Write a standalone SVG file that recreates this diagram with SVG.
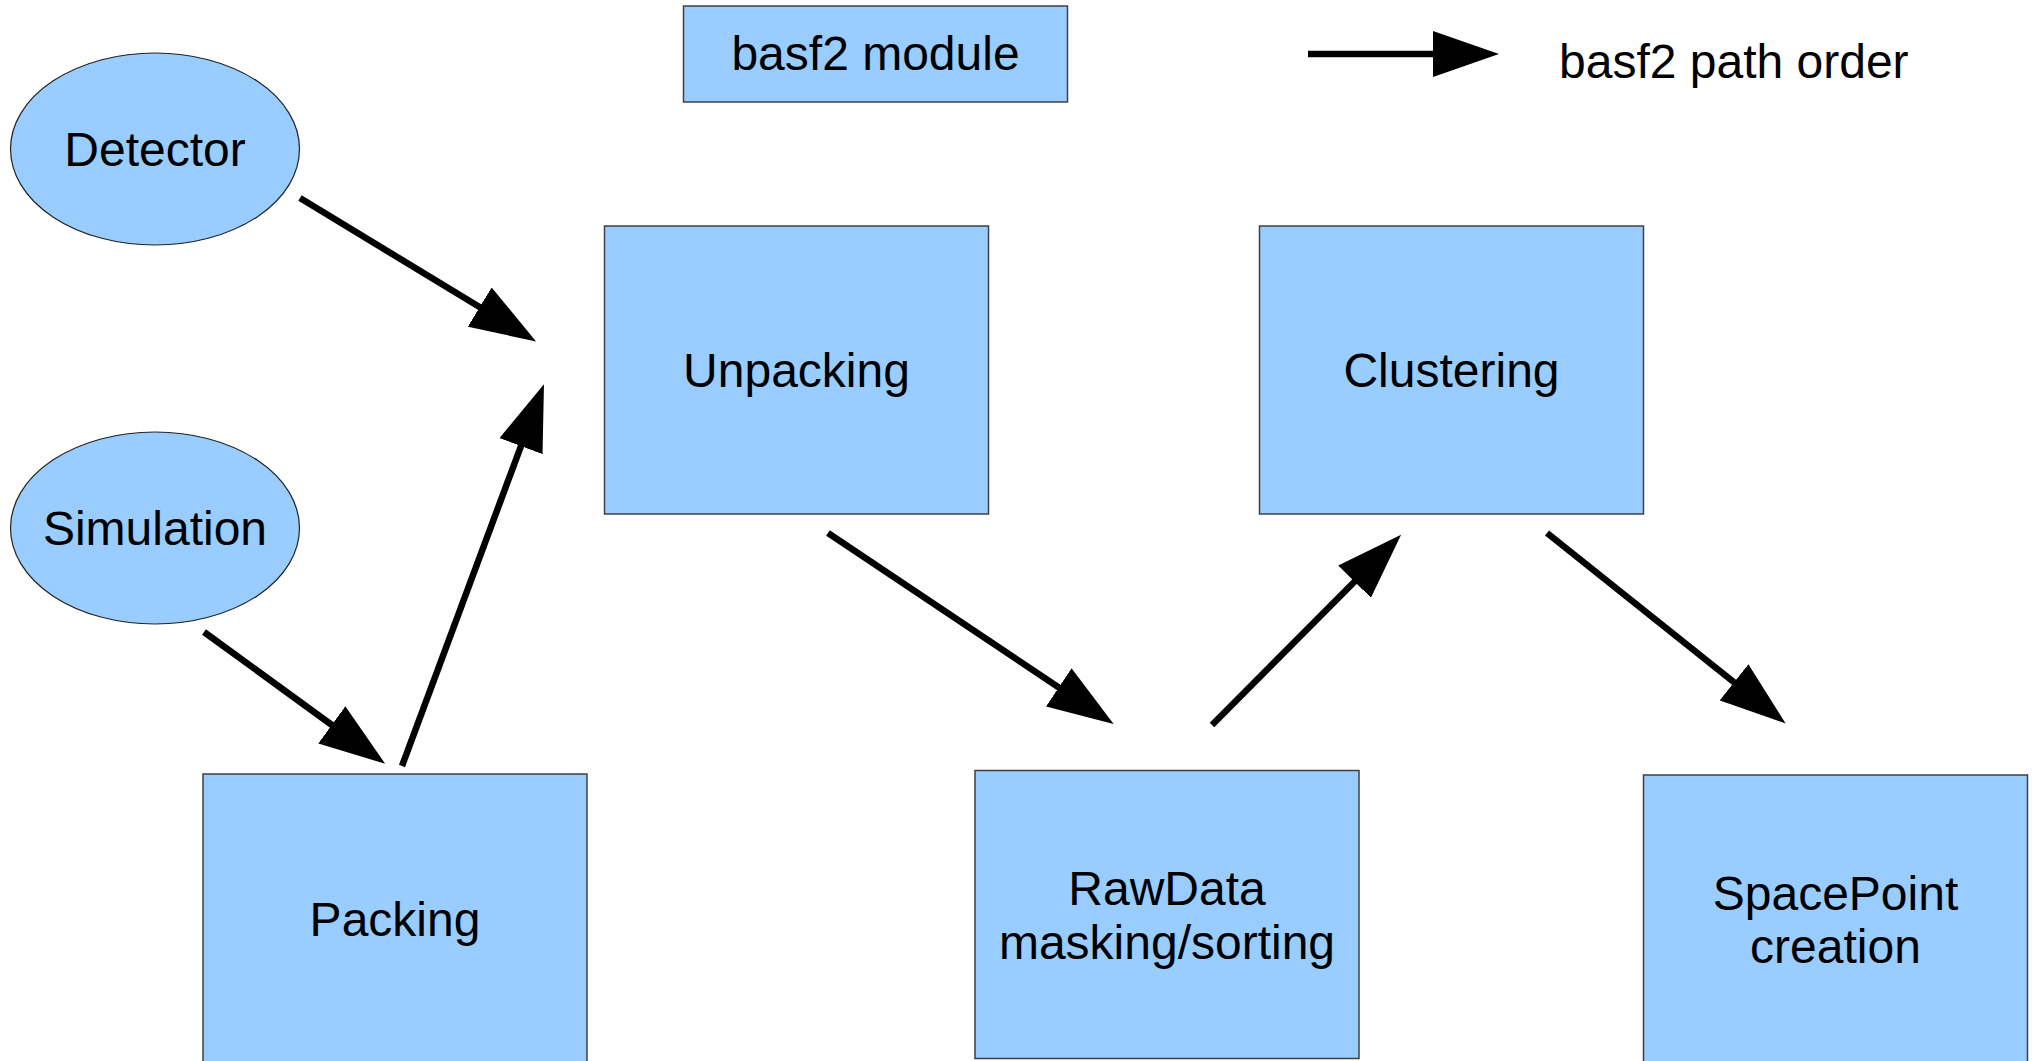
<svg xmlns="http://www.w3.org/2000/svg" width="2035" height="1061" viewBox="0 0 2035 1061">
  <style>
    .box { fill: #99ccff; stroke: #404040; stroke-width: 1.5; }
    .oval { fill: #99ccff; stroke: #222222; stroke-width: 1.2; }
    .lbl { font-family: "Liberation Sans", Arial, sans-serif; font-size: 48px; fill: #000000; text-anchor: middle; }
    .edge { stroke: #000000; stroke-width: 6.5; fill: none; marker-end: url(#head); }
  </style>
  <defs>
    <marker id="head" markerUnits="userSpaceOnUse" markerWidth="66" markerHeight="46" viewBox="0 0 66 46" refX="46" refY="23" orient="auto">
      <path d="M0,0 L66,23 L0,46 z" fill="#000000"/>
    </marker>
  </defs>

  <rect width="2035" height="1061" fill="#ffffff"/>

  <!-- legend -->
  <g id="legend-module">
    <rect class="box" x="683.5" y="6" width="384" height="96"/>
    <text class="lbl" x="875.5" y="70">basf2 module</text>
  </g>
  <g id="legend-order">
    <line class="edge" x1="1308" y1="54" x2="1479" y2="54"/>
    <text class="lbl" x="1559" y="78" style="text-anchor:start">basf2 path order</text>
  </g>

  <!-- sources -->
  <g id="detector">
    <ellipse class="oval" cx="155" cy="149" rx="144.5" ry="96"/>
    <text class="lbl" x="155" y="166">Detector</text>
  </g>
  <g id="simulation">
    <ellipse class="oval" cx="155" cy="528" rx="144.5" ry="96"/>
    <text class="lbl" x="155" y="545">Simulation</text>
  </g>

  <!-- modules -->
  <g id="unpacking">
    <rect class="box" x="604.5" y="226" width="384" height="288"/>
    <text class="lbl" x="796.5" y="387">Unpacking</text>
  </g>
  <g id="clustering">
    <rect class="box" x="1259.5" y="226" width="384" height="288"/>
    <text class="lbl" x="1451.5" y="387">Clustering</text>
  </g>
  <g id="packing">
    <rect class="box" x="203" y="774" width="384" height="300"/>
    <text class="lbl" x="395" y="936">Packing</text>
  </g>
  <g id="rawdata">
    <rect class="box" x="975" y="770.5" width="384" height="288"/>
    <text class="lbl" x="1167" y="905">RawData</text>
    <text class="lbl" x="1167" y="959">masking/sorting</text>
  </g>
  <g id="spacepoint">
    <rect class="box" x="1643.5" y="775" width="384" height="300"/>
    <text class="lbl" x="1835.5" y="910">SpacePoint</text>
    <text class="lbl" x="1835.5" y="963">creation</text>
  </g>

  <!-- path order -->
  <g id="connectors">
    <line class="edge" x1="300" y1="198" x2="519" y2="331"/>
    <line class="edge" x1="402" y1="766" x2="537" y2="403"/>
    <line class="edge" x1="204" y1="632" x2="369" y2="752"/>
    <line class="edge" x1="828" y1="533" x2="1097" y2="713"/>
    <line class="edge" x1="1212" y1="725" x2="1387" y2="549"/>
    <line class="edge" x1="1547" y1="533" x2="1770" y2="711"/>
  </g>
</svg>
